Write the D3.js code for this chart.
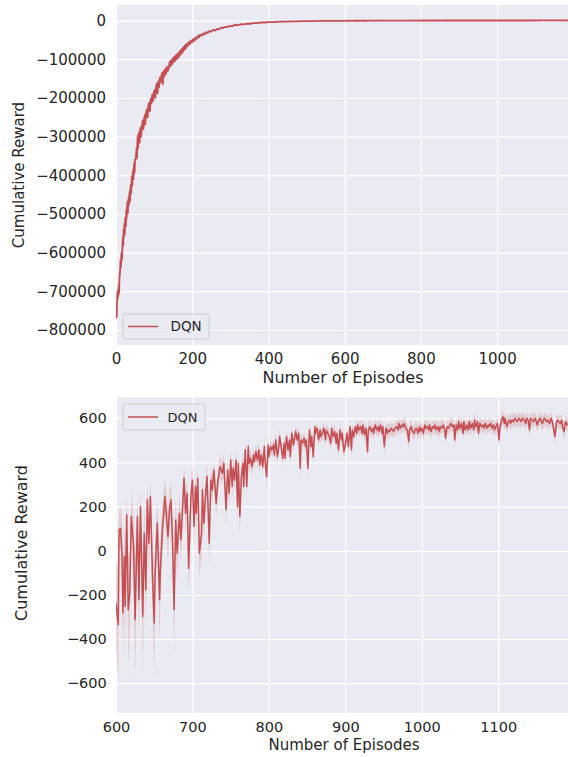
<!DOCTYPE html>
<html><head><meta charset="utf-8">
<script src="https://cdn.jsdelivr.net/npm/d3@7"></script>
<style>
body{margin:0;background:#fff}
svg{display:block}
</style>
</head><body>
<svg id="c" width="568" height="757"></svg>
<script>
// ---------------- DATA ----------------
const seriesName = "DQN";
const xLabel = "Number of Episodes";
const yLabel = "Cumulative Reward";

const topXTicks = [0, 200, 400, 600, 800, 1000];
const topYTicks = [0, -100000, -200000, -300000, -400000, -500000, -600000, -700000, -800000];
const botXTicks = [600, 700, 800, 900, 1000, 1100];
const botYTicks = [-600, -400, -200, 0, 200, 400, 600];

// early episodes (0-599)
const epEarly = [
  0,1,2,3,4,5,6,7,8,9,
  10,11,12,13,14,15,16,17,18,19,
  20,21,22,23,24,25,26,27,28,29,
  30,31,32,33,34,35,36,37,38,39,
  40,41,42,43,44,45,46,47,48,49,
  50,
  52,54,55,56,57,58,59,60,62,63,
  65,66,68,70,72,74,76,77,79,81,
  83,85,87,89,91,93,95,97,99,101,
  103,105,107,109,111,113,115,117,119,121,
  123,125,127,129,131,133,135,137,139,141,
  143,145,147,149,151,153,155,157,159,161,
  163,165,167,169,171,173,175,177,179,181,
  183,185,188,191,194,197,200,203,206,209,
  212,215,218,221,225,229,233,237,241,245,
  250,255,260,265,270,275,280,286,292,298,
  305,312,320,328,336,344,352,360,370,380,
  390,400,415,430,445,460,475,490,510,530,
  550,570,590
];
const rewEarly = [
  -770000,-745000,-765000,-720000,-700000,-718000,-705000,-685000,-705000,-668000,
  -655000,-645000,-620000,-638000,-605000,-600000,-618000,-580000,-560000,-582000,
  -540000,-558000,-525000,-552000,-515000,-508000,-532000,-490000,-510000,-480000,
  -468000,-498000,-478000,-458000,-476000,-448000,-442000,-466000,-430000,-425000,
  -446000,-410000,-402000,-426000,-394000,-386000,-410000,-374000,-368000,-392000,
  -358000,
  -358000,-330000,-355000,-315000,-298000,-330000,-302000,-290000,-316000,-282000,
  -276000,-300000,-275000,-258000,-280000,-252000,-244000,-268000,-236000,-230000,
  -250000,-218000,-212000,-234000,-202000,-214000,-192000,-208000,-185000,-180000,
  -200000,-172000,-162000,-188000,-157000,-172000,-147000,-160000,-142000,-135000,
  -164000,-130000,-144000,-125000,-138000,-119000,-131000,-128000,-118000,-106000,
  -118000,-102000,-113000,-97000,-108000,-93000,-104000,-90000,-100000,-86000,
  -96000,-82000,-91000,-77000,-86000,-73000,-82000,-68000,-76000,-64000,
  -72000,-60000,-66000,-55000,-61000,-51000,-56000,-47000,-52000,-43000,
  -47000,-39000,-43000,-36000,-39000,-32500,-35500,-29500,-32000,-26500,
  -28500,-23500,-25500,-21000,-22500,-18000,-19500,-15800,-16800,-13300,
  -14000,-11000,-11700,-9100,-9500,-7600,-7900,-6100,-6100,-4700,
  -4700,-3500,-3400,-2500,-2400,-1700,-1600,-1100,-900,-700,
  -500,-400,-300
];
const ciEarly = [
  15000,14000,15000,13000,12000,14000,12000,12000,13000,11000,
  12000,11000,12000,10000,11000,12000,10000,11000,12000,10000,
  11000,10000,12000,10000,11000,10000,12000,10000,11000,10000,
  11000,10000,12000,9000,10000,9000,11000,9000,10000,9000,
  10000,9000,11000,9000,10000,9000,10000,8000,9000,8000,
  9000,
  8000,9000,8000,9000,8000,9000,8000,8000,9000,8000,
  8000,7000,8000,7000,8000,7000,7000,8000,7000,7000,
  7000,6000,7000,6000,7000,6000,6000,7000,6000,6000,
  6000,6000,5000,6000,5000,6000,5000,5000,6000,5000,
  5000,5000,5000,4000,5000,4000,5000,4000,4000,4000,
  4000,4000,4000,4000,4000,3500,4000,3500,3500,3500,
  3500,3000,3500,3000,3000,3000,3000,3000,3000,2500,
  2500,2500,2500,2500,2500,2000,2000,2000,2000,2000,
  2000,1800,1800,1600,1600,1500,1500,1400,1400,1200,
  1200,1100,1100,1000,1000,900,900,800,800,700,
  700,600,600,500,500,450,450,400,400,350,
  350,300,300,250,250,200,200,180,160,150,
  150,150,150
];

// late episodes (600-1198)
const epLate = [
  600,603,604,606,608,609,611,612,614,616,
  618,620,623,625,628,630,632,635,637,639,
  641,643,645,648,650,651,654,657,658,661,
  664,665,668,670,672,674,676,678,680,683,
  685,687,689,691,693,695,698,700,702,704,
  705,707,709,712,713,715,717,719,722,724,
  726,728,731,733,736,739,741,744,746,748,
  750,
  752,753,755,757,759,760,762,764,766,767,
  769,771,773,774,776,778,780,781,783,785,
  787,788,790,792,794,795,797,799,800,802,
  804,806,807,809,811,813,814,816,818,820,
  821,823,825,827,828,830,832,834,835,837,
  839,841,842,844,846,848,849,851,853,855,
  856,858,860,861,863,865,867,868,870,872,
  874,875,877,879,881,882,884,886,888,889,
  891,893,895,896,898,
  901,902,904,906,908,909,911,913,915,916,
  918,920,922,923,925,927,929,930,932,934,
  936,937,939,941,943,944,946,948,949,951,
  953,955,956,958,960,962,963,965,967,969,
  970,972,974,976,977,979,981,983,984,986,
  988,990,991,993,995,997,998,1000,1002,1004,
  1005,1007,1009,1010,1012,1014,1016,1017,1019,1021,
  1023,1024,1026,1028,1030,1031,1033,1035,1037,1038,
  1040,1042,1043,1045,
  1047,1048,1050,1052,1054,1055,1057,1059,1061,1062,
  1064,1066,1068,1069,1071,1073,1074,1076,1078,1080,
  1081,1083,1085,1087,1088,1090,1092,1094,1095,1097,
  1099,1101,1102,1104,1106,1108,1109,1111,1113,1115,
  1116,1118,1120,1122,1123,1125,1127,1129,1130,1132,
  1134,1136,1137,1139,1141,1142,1144,1146,1148,1149,
  1151,1153,1155,1156,1158,1160,1162,1163,1165,1167,
  1169,1170,1172,1174,1176,1177,1179,1181,1183,1184,
  1186,1188,1190,1192,1195,1198
];
const rewLate = [
  -237,-335,95,102,-26,-282,-26,-252,163,-267,
  -192,155,19,-312,155,-222,200,-297,80,-177,
  231,34,246,-147,-327,-116,125,-222,-86,110,
  246,200,65,186,231,34,-267,140,-11,170,
  50,186,329,170,261,-79,246,321,110,291,
  170,329,-11,80,276,125,246,336,34,321,
  276,366,216,306,381,351,396,186,366,261,
  411,
  291,374,321,411,200,396,155,336,396,291,
  457,291,472,396,419,381,434,404,449,411,
  457,389,434,381,472,404,336,479,426,472,
  457,479,434,502,426,472,517,472,419,487,
  419,517,457,502,426,532,479,517,540,502,
  532,374,502,487,510,472,502,374,547,472,
  517,426,562,532,555,502,547,517,532,555,
  502,547,532,517,487,555,517,540,487,532,
  457,547,502,532,449,
  500,532,472,562,457,547,517,562,532,570,
  547,562,532,570,525,555,449,547,562,540,
  555,532,570,547,562,540,570,532,562,472,
  555,532,547,540,555,547,540,555,562,547,
  577,555,570,562,577,555,547,495,547,562,
  540,532,547,555,532,562,540,555,532,570,
  555,562,547,570,540,562,555,570,547,562,
  540,562,555,570,547,510,562,555,570,577,
  562,570,502,570,
  547,585,555,577,532,585,547,570,547,585,
  555,577,547,592,562,585,532,577,562,570,
  555,577,555,570,562,577,555,570,547,562,
  577,502,555,585,607,577,600,562,585,592,
  577,592,585,600,592,585,600,592,585,600,
  592,577,600,592,547,600,592,585,600,592,
  570,592,600,585,577,600,592,585,592,577,
  600,592,562,517,577,592,585,577,592,562,
  540,585,570,577,570,580
];
const ciLate = [
  200,250,90,100,150,220,150,200,100,250,
  180,110,140,280,100,200,90,260,120,180,
  80,130,80,170,250,160,100,190,150,110,
  80,90,120,90,80,120,200,100,120,90,
  110,90,70,90,70,130,80,70,100,70,
  90,60,110,90,60,80,60,60,100,60,
  60,50,70,50,50,50,50,80,50,60,
  50,
  60,50,50,45,70,45,90,50,45,50,
  40,50,40,40,40,40,35,40,35,40,
  35,40,35,40,35,35,50,35,35,30,
  30,30,35,30,35,30,30,30,35,30,
  35,30,30,30,35,30,30,30,30,30,
  30,40,30,30,30,30,30,40,30,30,
  30,35,30,30,30,30,30,30,30,30,
  30,30,30,30,30,30,30,30,30,30,
  35,30,30,30,35,
  35,30,30,30,35,30,30,30,30,30,
  30,30,30,30,30,30,40,30,30,30,
  30,30,30,30,30,30,30,30,30,40,
  30,30,30,30,30,30,30,30,30,30,
  30,30,30,30,30,30,30,40,30,30,
  30,30,30,30,30,30,30,30,30,30,
  30,30,30,30,30,30,30,30,30,30,
  30,30,30,30,30,35,30,30,30,30,
  30,30,40,30,
  30,30,30,30,35,30,30,30,30,30,
  30,30,30,30,30,30,35,30,30,30,
  30,30,30,30,30,30,30,30,30,30,
  30,40,30,30,30,30,30,30,30,30,
  30,30,30,30,30,30,30,30,30,30,
  30,30,30,30,35,30,30,30,30,30,
  30,30,30,30,30,30,30,30,30,30,
  30,30,30,40,30,30,30,30,30,30,
  35,30,30,30,30,30
];

// ---------------- DRAW ----------------
const FONT = '"DejaVu Sans", sans-serif';
const TXT = "#262626";
const RED = "#C44E52";
const BG = "#EAEAF2";
const svg = d3.select("#c");
const defs = svg.append("defs");

function toPts(eps, rews, cis) {
  const n = Math.min(eps.length, rews.length, cis.length);
  return d3.range(n).map(i => ({e: eps[i], v: rews[i], c: cis[i]}));
}
const allPts = toPts(epEarly, rewEarly, ciEarly).concat(toPts(epLate, rewLate, ciLate));

function panel(o) {
  const x = d3.scaleLinear().domain(o.xd).range([o.l, o.r]);
  const y = d3.scaleLinear().domain(o.yd).range([o.b, o.t]);
  defs.append("clipPath").attr("id", o.id).append("rect")
    .attr("x", o.l).attr("y", o.t).attr("width", o.r - o.l).attr("height", o.b - o.t);
  svg.append("rect").attr("x", o.l).attr("y", o.t)
    .attr("width", o.r - o.l).attr("height", o.b - o.t).attr("fill", BG);

  const fmt = d3.format("d");
  const xa = svg.append("g").attr("transform", `translate(0,${o.b})`)
    .call(d3.axisBottom(x).tickValues(o.xt).tickSize(-(o.b - o.t)).tickPadding(o.xpad).tickFormat(fmt));
  const ya = svg.append("g").attr("transform", `translate(${o.l},0)`)
    .call(d3.axisLeft(y).tickValues(o.yt).tickSize(-(o.r - o.l)).tickPadding(o.ypad).tickFormat(fmt));
  [xa, ya].forEach(a => {
    a.select(".domain").remove();
    a.selectAll(".tick line").attr("stroke", "#fff").attr("stroke-width", 1.2);
    a.selectAll(".tick text").attr("fill", TXT).style("font-family", FONT).style("font-size", o.tfs + "px");
  });

  const g = svg.append("g").attr("clip-path", `url(#${o.id})`);
  const area = d3.area().x(d => x(d.e)).y0(d => y(d.v - d.c)).y1(d => y(d.v + d.c));
  const line = d3.line().x(d => x(d.e)).y(d => y(d.v));
  g.append("path").datum(allPts).attr("d", area).attr("fill", RED).attr("fill-opacity", 0.2);
  g.append("path").datum(allPts).attr("d", line).attr("fill", "none")
    .attr("stroke", RED).attr("stroke-width", o.lw).attr("stroke-linejoin", "round");

  // axis labels
  svg.append("text").attr("x", o.xlx).attr("y", o.xly).attr("text-anchor", "middle")
    .style("font-family", FONT).style("font-size", o.xlfs + "px").attr("fill", TXT).text(xLabel);
  svg.append("text").attr("transform", `translate(${o.ylx},${o.yly}) rotate(-90)`).attr("text-anchor", "middle")
    .style("font-family", FONT).style("font-size", o.ylfs + "px").attr("fill", TXT).text(yLabel);

  // legend
  const lg = o.leg;
  svg.append("rect").attr("x", lg.x).attr("y", lg.y).attr("width", lg.w).attr("height", lg.h)
    .attr("rx", 3).attr("fill", BG).attr("fill-opacity", 0.8).attr("stroke", "#cccccc").attr("stroke-width", 1);
  svg.append("line").attr("x1", lg.x + 5).attr("x2", lg.x + 35).attr("y1", lg.y + lg.h / 2).attr("y2", lg.y + lg.h / 2)
    .attr("stroke", RED).attr("stroke-width", 1.5);
  svg.append("text").attr("x", lg.tx).attr("y", lg.y + lg.h / 2 + lg.fs * 0.36)
    .style("font-family", FONT).style("font-size", lg.fs + "px").attr("fill", TXT).text(seriesName);
}

panel({
  id: "clipTop", l: 116, r: 568, t: 5, b: 345,
  xd: [0, 1186], yd: [-838800, 40600],
  xt: topXTicks, yt: topYTicks, tfs: 15, xpad: 8.6, ypad: 10, lw: 1.8,
  xlx: 343, xly: 383, xlfs: 16,
  ylx: 24, yly: 175, ylfs: 15,
  leg: {x: 123, y: 314, w: 86, h: 25, tx: 170.5, fs: 13.5}
});
panel({
  id: "clipBot", l: 116, r: 568, t: 397.3, b: 712.7,
  xd: [600, 1191.2], yd: [-733, 695],
  xt: botXTicks, yt: botYTicks, tfs: 14.5, xpad: 9.5, ypad: 9.3, lw: 1.5,
  xlx: 344, xly: 750, xlfs: 15,
  ylx: 26.5, yly: 543, ylfs: 16,
  leg: {x: 123, y: 404, w: 82, h: 26, tx: 167.5, fs: 13}
});
</script>
</body></html>
